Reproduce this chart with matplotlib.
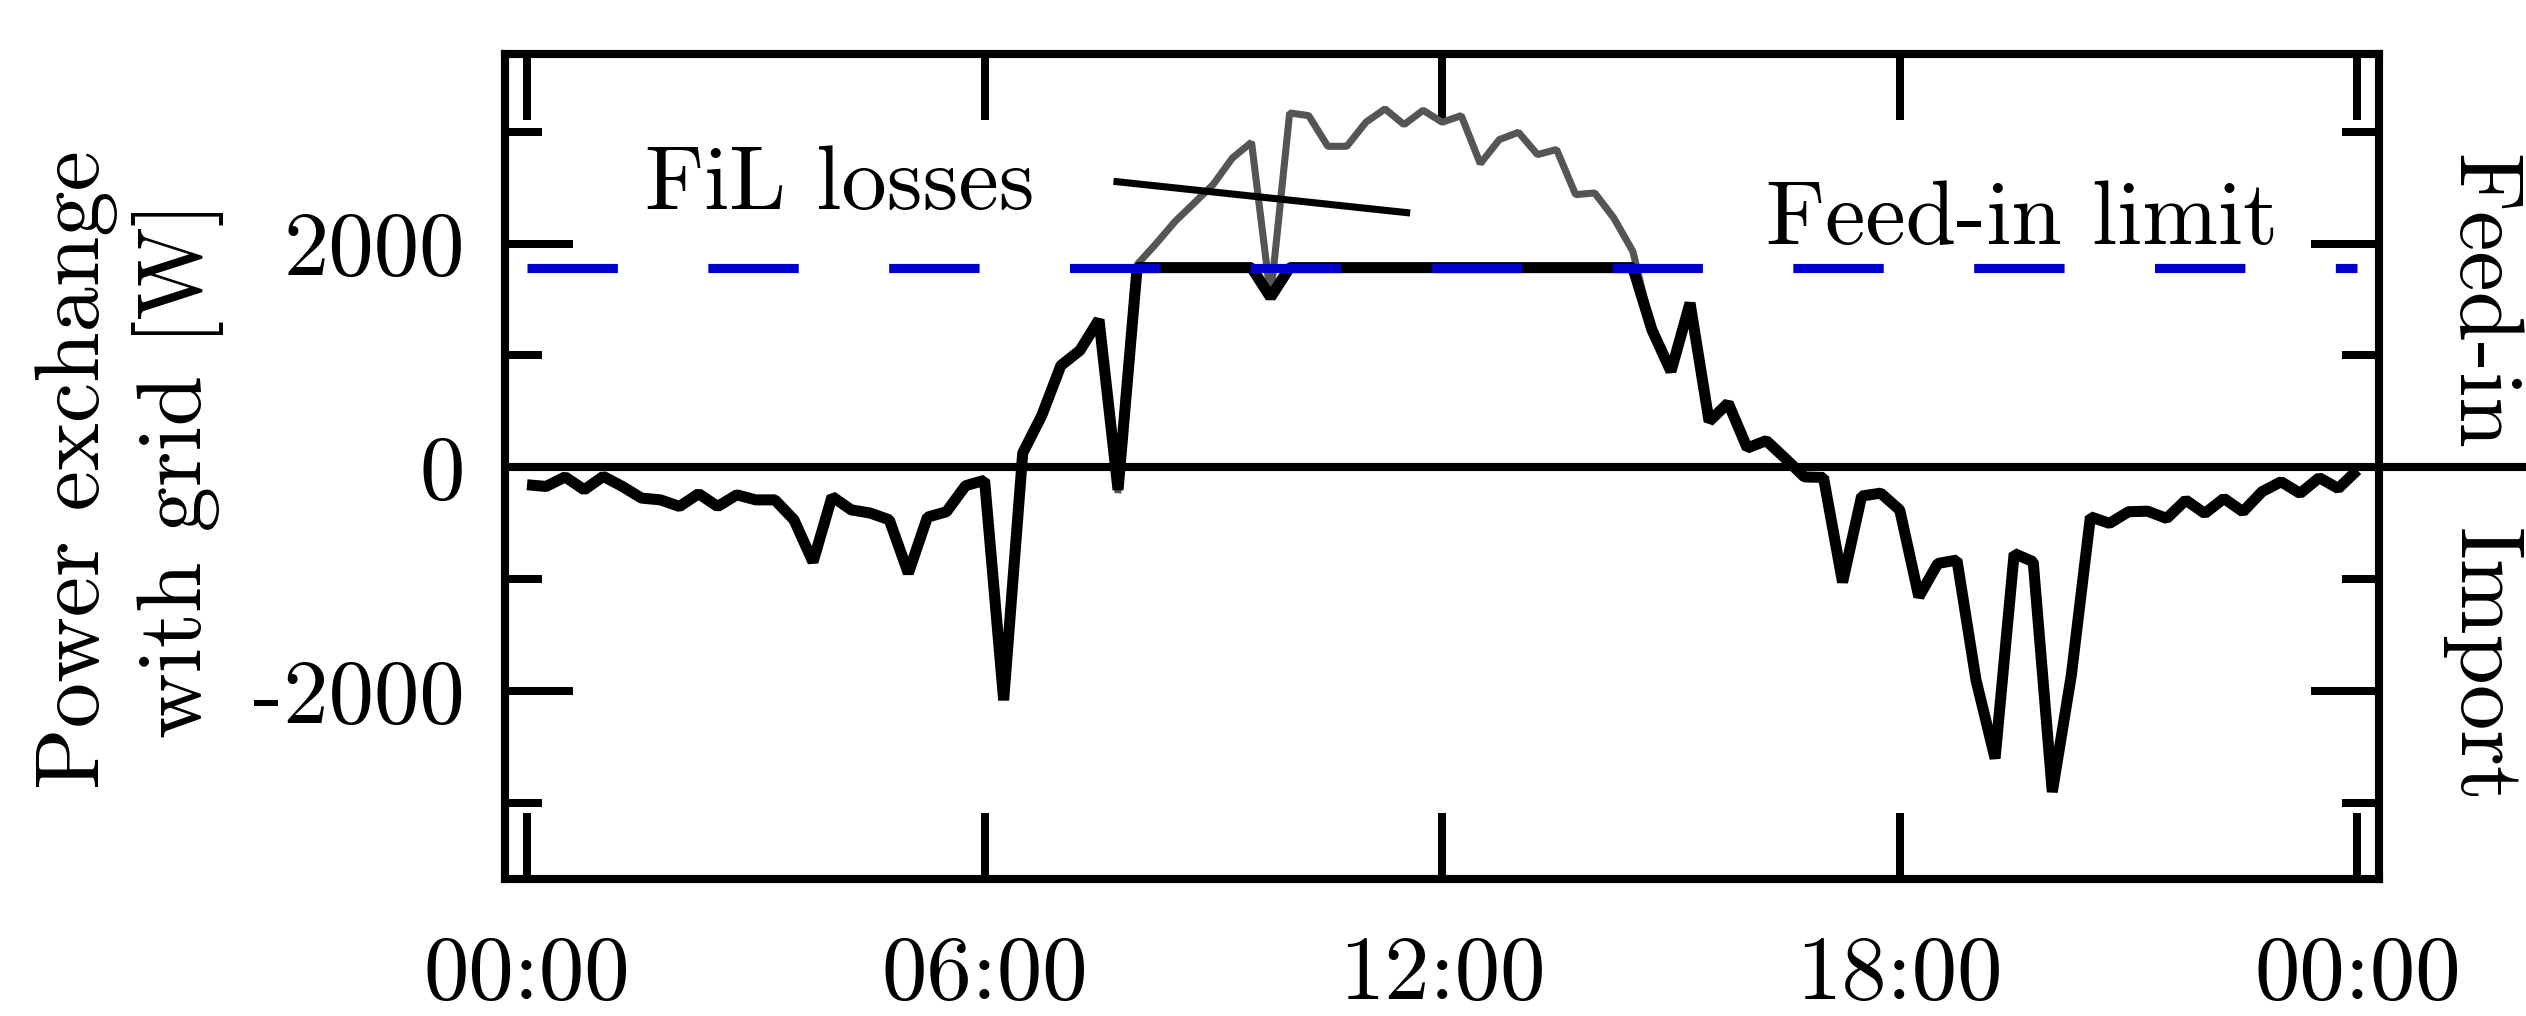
import numpy as np
import matplotlib
matplotlib.use("Agg")
import matplotlib.pyplot as plt
import matplotlib.transforms as mtransforms

# ---------------- data ----------------
# 15-minute resolution, 00:00 ... 24:00
time_h = np.arange(0, 24.25, 0.25)

grid_exchange = [
    -155, -170, -85, -200, -80, -170, -274, -290,          # 00:00-01:45
    -349, -235, -349, -245, -290, -290, -468, -845,        # 02:00-03:45
    -260, -379, -408, -468, -946, -445, -396, -164,        # 04:00-05:45
    -115, -2080, 128, 464, 910, 1045, 1320, -200,          # 06:00-07:45
    1785, 1785, 1785, 1785, 1785, 1785, 1785, 1520,        # 08:00-09:45
    1785, 1785, 1785, 1785, 1785, 1785, 1785, 1785,        # 10:00-11:45
    1785, 1785, 1785, 1785, 1785, 1785, 1785, 1785,        # 12:00-13:45
    1785, 1785, 1785, 1230, 858, 1469, 411, 575,           # 14:00-15:45
    173, 239, 80, -85, -90, -1026, -256, -230,             # 16:00-17:45
    -381, -1156, -858, -828, -1900, -2600, -769, -843,     # 18:00-19:45
    -2900, -1856, -441, -500, -396, -391, -456, -292,      # 20:00-21:45
    -411, -277, -396, -217, -128, -232, -92, -188,         # 22:00-23:45
    -24,                                                   # 24:00
]

# exchange without feed-in limitation (07:45 ... 14:45)
uncurtailed_time_h = np.arange(7.75, 14.76, 0.25)
uncurtailed_exchange = [
    -200, 1812, 2000, 2199, 2363, 2530, 2765, 2905, 1520,
    3167, 3143, 2869, 2869, 3084, 3203, 3063, 3191,
    3084, 3143, 2714, 2929, 2994, 2795, 2840, 2437, 2452,
    2229, 1931, 1230,
]

feed_in_limit = 1785
x_ticks = [0, 6, 12, 18, 24]
x_tick_labels = ["00:00", "06:00", "12:00", "18:00", "00:00"]
y_major_ticks = [-2000, 0, 2000]
y_major_labels = ["-2000", "0", "2000"]
y_minor_ticks = [-3000, -1000, 1000, 3000]

# ---------------- style ----------------
plt.rcParams["font.family"] = "serif"
plt.rcParams["font.serif"] = ["cmr10", "DejaVu Serif"]
plt.rcParams["mathtext.fontset"] = "cm"
plt.rcParams["axes.unicode_minus"] = False
plt.rcParams["lines.scale_dashes"] = False

FS = 21.8
DPI = 300
fig = plt.figure(figsize=(2526 / DPI, 1016 / DPI), dpi=DPI)
ax = fig.add_axes([0.19976, 0.13455, 0.74192, 0.81191])

# zero line, extending to the right figure edge
trans = mtransforms.blended_transform_factory(ax.transAxes, ax.transData)
ax.plot([0, 1.08], [0, 0], color="black", lw=1.95, transform=trans,
        clip_on=False, zorder=1, solid_capstyle="butt")

ax.plot(uncurtailed_time_h, uncurtailed_exchange, color="#555555", lw=1.7,
        zorder=2, solid_joinstyle="bevel")
ax.plot(time_h, grid_exchange, color="black", lw=2.65, zorder=3,
        solid_joinstyle="bevel", solid_capstyle="butt")
ax.plot([time_h[0], time_h[-1]], [feed_in_limit, feed_in_limit],
        color="#0000CC", lw=2.2, dashes=(21.7, 21.7), zorder=4,
        dash_capstyle="butt")

# annotation line for FiL losses
ax.plot([7.69, 11.58], [2556, 2273], color="black", lw=1.7, zorder=5,
        solid_capstyle="butt")
ax.text(1.55, 2312, "FiL losses", fontsize=FS, ha="left", va="baseline")
ax.text(16.245, 1999, "Feed-in limit", fontsize=FS, ha="left", va="baseline")

ax.set_xlim(-0.294, 24.28)
ax.set_ylim(-3680, 3690)

ax.set_xticks(x_ticks)
ax.set_xticklabels(x_tick_labels)
ax.set_yticks(y_major_ticks)
ax.set_yticklabels(y_major_labels)
ax.set_yticks(y_minor_ticks, minor=True)
ax.tick_params(axis="both", which="both", direction="in", top=True,
               right=True, width=1.92, labelsize=FS)
ax.tick_params(axis="y", which="major", length=16.3, pad=9.6)
ax.tick_params(axis="y", which="minor", length=8.9)
ax.tick_params(axis="x", which="major", length=15.8, pad=13.5)
for sp in ax.spines.values():
    sp.set_linewidth(1.95)

fig.text(130 / 2526, 1 - 470 / 1016, "Power exchange\nwith grid [W]",
         rotation=90, ha="center", va="center", multialignment="center",
         fontsize=FS)
fig.text(2480 / 2526, 1 - 302 / 1016, "Feed-in", rotation=270,
         ha="center", va="center", fontsize=FS)
fig.text(2481 / 2526, 1 - 666 / 1016, "Import", rotation=270,
         ha="center", va="center", fontsize=FS)

fig.savefig("out.png", dpi=DPI)
